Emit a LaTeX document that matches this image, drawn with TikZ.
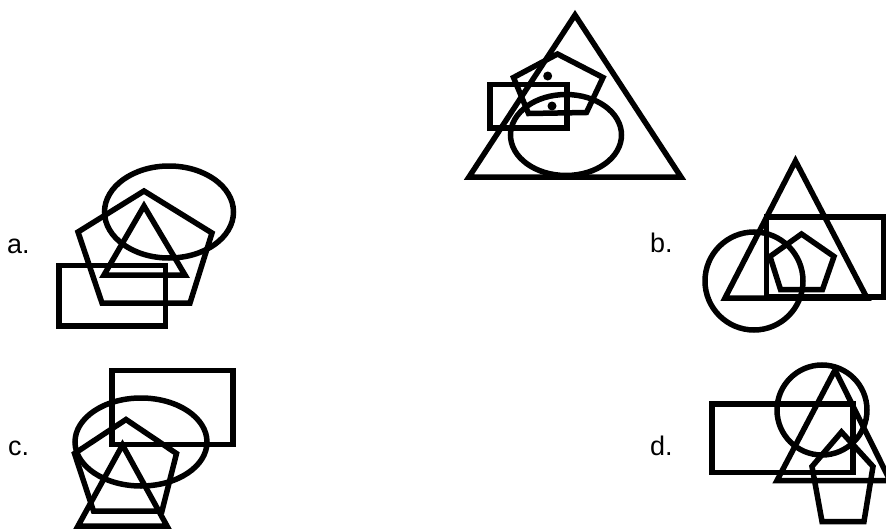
\documentclass[tikz,border=0pt]{standalone}
\usepackage{fontspec}
\setmainfont{Liberation Sans}
\begin{document}
\begin{tikzpicture}[
      x=0.03cm, y=-0.03cm,
      fig/.style={line width=0.165cm,line join=miter},
      lbl/.style={anchor=base west,inner sep=0pt,font=\fontsize{23}{28}\selectfont},
      dot/.style={fill=black}]
    \useasboundingbox (0,0) rectangle (886,531);
    % question figure
    \draw[fig] (575,15) -- (681,177) -- (469,177) -- cycle;
    \draw[fig] (557.5,54) -- (603,77.5) -- (586.5,112.5) -- (528.5,113.5) -- (513.5,77.5) -- cycle;
    \draw[fig] (490,84.5) rectangle (567,128);
    \draw[fig] (566,135) ellipse [x radius=55.5, y radius=40.5];
    \fill[dot] (547.7,76) circle [radius=4.5];
    \fill[dot] (552,106) circle [radius=4.5];
    % a
    \node[lbl] (la) at (7,253) {a.};
    \draw[fig] (169,212) ellipse [x radius=64.5, y radius=46];
    \draw[fig] (144,191) -- (212,233) -- (190,303) -- (102,303) -- (78,232) -- cycle;
    \draw[fig] (144,206) -- (185,275) -- (104,275) -- cycle;
    \draw[fig] (59,265.5) rectangle (165.5,326);
    % b
    \node[lbl] (lb) at (650,252) {b.};
    \draw[fig] (795.5,161) -- (867,298) -- (725,298) -- cycle;
    \draw[fig] (766.5,217) rectangle (883.5,297);
    \draw[fig] (754,281) circle [radius=49];
    \draw[fig] (801.5,234) -- (834,256.5) -- (822.5,289.5) -- (780.5,289.5) -- (770,256.5) -- cycle;
    % c
    \node[lbl] (lc) at (8,455) {c.};
    \draw[fig] (112,370.5) rectangle (233,444.5);
    \draw[fig] (141,442) ellipse [x radius=66, y radius=44];
    \draw[fig] (126,419.5) -- (176.5,453.5) -- (162,511) -- (93.5,511) -- (74.5,453.5) -- cycle;
    \draw[fig] (122.5,445) -- (167,526) -- (78,526) -- cycle;
    % d
    \node[lbl] (ld) at (650,455) {d.};
    \draw[fig] (712,404) rectangle (853,472.5);
    \draw[fig] (822,410) circle [radius=45];
    \draw[fig] (835,370) -- (890,480.5) -- (777,480.5) -- cycle;
    \draw[fig] (841.5,432) -- (873,466.5) -- (864,521.5) -- (822,521.5) -- (812,466.5) -- cycle;
\end{tikzpicture}
\end{document}
